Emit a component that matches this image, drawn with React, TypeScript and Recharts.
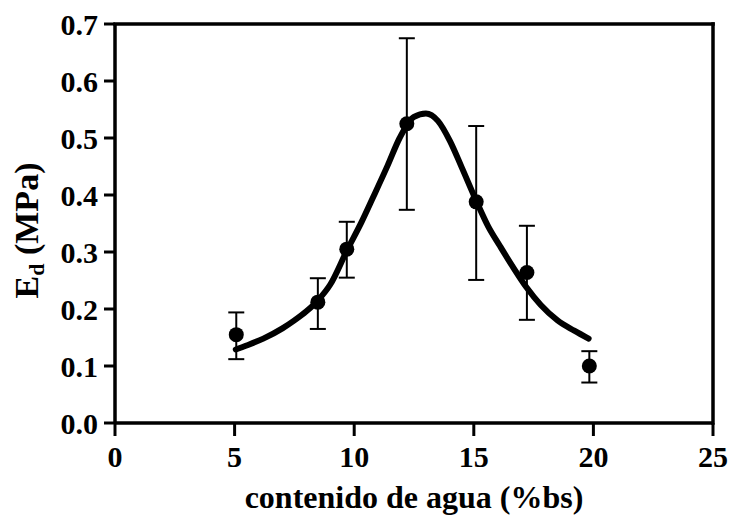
import React from 'react';
import {
  ComposedChart,
  Line,
  Scatter,
  ErrorBar,
  XAxis,
  YAxis,
  ReferenceLine,
} from 'recharts';

// Measured points (contenido de agua %bs vs Ed MPa)
const pointX = [5.07, 8.48, 9.69, 12.2, 15.1, 17.22, 19.83];
const pointY = [0.155, 0.212, 0.305, 0.525, 0.388, 0.264, 0.1];
const errLow = [0.112, 0.165, 0.255, 0.374, 0.251, 0.181, 0.071];
const errHigh = [0.194, 0.254, 0.353, 0.675, 0.521, 0.346, 0.126];

// Fitted curve
const curveX = [5.05, 5.5, 6.2, 7.0, 7.5, 8.0, 8.5, 9.0, 9.7, 10.3, 10.8, 11.4, 11.9, 12.5, 13.0, 13.5, 14.0, 14.5, 15.1, 15.6, 16.1, 16.6, 17.2, 17.8, 18.5, 19.2, 19.8];
const curveY = [0.129, 0.136, 0.148, 0.166, 0.18, 0.196, 0.216, 0.243, 0.303, 0.352, 0.397, 0.452, 0.5, 0.537, 0.543, 0.53, 0.495, 0.448, 0.39, 0.345, 0.31, 0.276, 0.238, 0.207, 0.18, 0.162, 0.148];

const xTicks = [0, 5, 10, 15, 20, 25];
const yTicks = [0, 0.1, 0.2, 0.3, 0.4, 0.5, 0.6, 0.7];

const xTitle = 'contenido de agua (%bs)';

const pointData = pointX.map((x, i) => ({
  x,
  y: pointY[i],
  err: [pointY[i] - errLow[i], errHigh[i] - pointY[i]],
}));
const curveData = curveX.map((x, i) => ({ x, y: curveY[i] }));

const FONT = '"Liberation Serif", "Times New Roman", serif';

const XTitle = (props: any) => {
  const vb = props.viewBox || {};
  const x = (vb.x ?? 115) + (vb.width ?? 598) / 2;
  const y = (vb.y ?? 423) + 85;
  return (
    <text x={x} y={y} textAnchor="middle" fontFamily={FONT} fontSize={32} fontWeight="bold" fill="#000">
      {xTitle}
    </text>
  );
};

const YTitle = (props: any) => {
  const vb = props.viewBox || {};
  const x = (vb.x ?? 0) + 38;
  const y = (vb.y ?? 24) + (vb.height ?? 399) / 2 + 7;
  return (
    <text
      x={x}
      y={y}
      transform={`rotate(-90, ${x}, ${y})`}
      textAnchor="middle"
      fontFamily={FONT}
      fontSize={34}
      fontWeight="bold"
      fill="#000"
    >
      E<tspan fontSize={22} dy={6}>d</tspan>
      <tspan dy={-6}>{' (MPa)'}</tspan>
    </text>
  );
};

const Dot = (props: any) => {
  if (props.cx == null || props.cy == null) return null;
  return <circle cx={props.cx} cy={props.cy} r={7.5} fill="#000" />;
};

const tickStyle = { fill: '#000', fontSize: 30, fontWeight: 'bold', fontFamily: FONT };

export default function App() {
  return (
    <div style={{ position: 'absolute', left: 0, top: 0, background: '#fff' }}>
      <ComposedChart
        width={732}
        height={518}
        margin={{ top: 24, right: 19, left: 0, bottom: 0 }}
      >
        <XAxis
          dataKey="x"
          type="number"
          domain={[0, 25]}
          ticks={xTicks}
          allowDataOverflow
          height={95}
          tickSize={13}
          tickMargin={10}
          tick={tickStyle}
          axisLine={{ stroke: '#000', strokeWidth: 3.5 }}
          tickLine={{ stroke: '#000', strokeWidth: 3 }}
          label={{ content: XTitle } as any}
        />
        <YAxis
          type="number"
          domain={[0, 0.7]}
          ticks={yTicks}
          allowDataOverflow
          width={115}
          tickSize={11}
          tickMargin={6}
          tick={tickStyle}
          tickFormatter={(v: number) => v.toFixed(1)}
          axisLine={{ stroke: '#000', strokeWidth: 3.5 }}
          tickLine={{ stroke: '#000', strokeWidth: 3 }}
          label={{ content: YTitle } as any}
        />
        <ReferenceLine y={0.7} stroke="#000" strokeWidth={3.5} strokeLinecap="square" />
        <ReferenceLine x={25} stroke="#000" strokeWidth={3.5} strokeLinecap="square" />
        <Line
          data={curveData}
          dataKey="y"
          type="monotone"
          stroke="#000"
          strokeWidth={6}
          strokeLinecap="round"
          dot={false}
          activeDot={false}
          isAnimationActive={false}
        />
        <Scatter data={pointData} dataKey="y" fill="#000" shape={<Dot />} isAnimationActive={false}>
          <ErrorBar dataKey="err" direction="y" width={8} stroke="#000" strokeWidth={2} />
        </Scatter>
      </ComposedChart>
    </div>
  );
}
